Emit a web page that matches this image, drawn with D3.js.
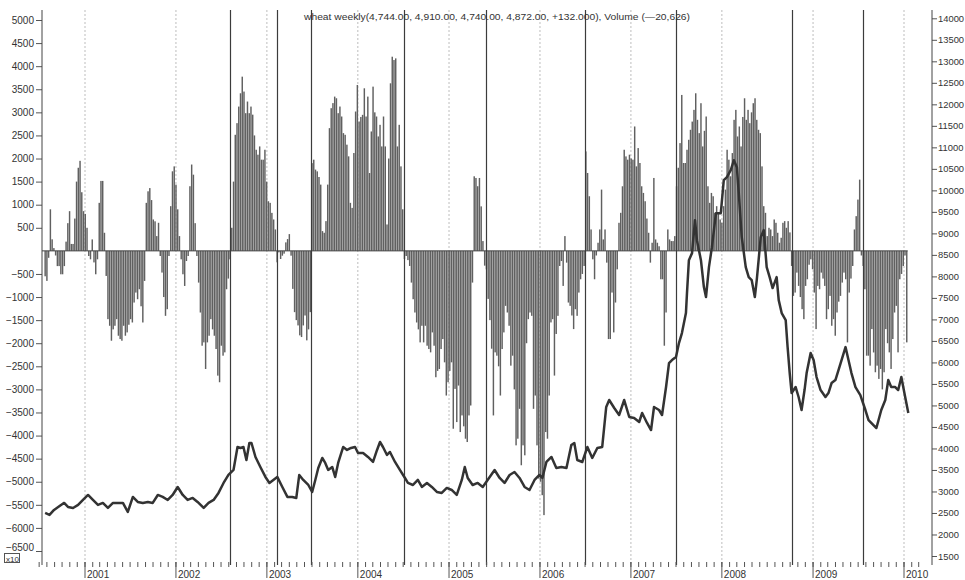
<!DOCTYPE html>
<html><head><meta charset="utf-8">
<script src="https://cdnjs.cloudflare.com/ajax/libs/d3/7.8.5/d3.min.js"></script>
<style>
body{margin:0;background:#fff}
svg{display:block}
text{font-family:"Liberation Sans",Arial,sans-serif}
</style>
</head><body>
<svg id="chart" width="965" height="580"></svg>
<script>
// ---------------- data ----------------
const titleText = "wheat weekly(4,744.00, 4,910.00, 4,740.00, 4,872.00, +132.000), Volume (\u201420,626)";
const weekStart = "2000-07-25";           // date of the first weekly bar
// weekly net values (left axis), split in blocks of 100 weeks
const netWeeks000 = [-550,-650,-150,900,250,60,-100,-330,-330,-507,
 -507,-330,200,600,860,150,150,700,1500,1800,
 1950,1270,860,800,500,-111,-183,248,-250,-507,
 -183,1040,1515,1515,392,-543,-1479,-1622,-1946,-1700,
 -1622,-1479,-1838,-1910,-1946,-1622,-1838,-1766,-1600,-1479,
 -1551,-1119,-903,-1047,-831,-1200,-1551,-651,1040,1290,
 1360,1100,680,640,320,608,-111,-470,-1000,-1407,
 -1263,-111,968,1723,1830,1435,900,320,-183,-507,
 -760,-220,-111,1400,1870,1650,600,-111,-687,-1335,
 -2054,-1982,-2558,-1982,-1838,-1479,-1700,-1838,-2126,-2702];
const netWeeks100 = [-2845,-2054,-2270,-2198,-831,-600,-183,500,1500,2514,
 2766,3125,3413,3773,3450,2982,3234,2982,3125,2950,
 2500,2190,2083,2262,1975,1975,2190,1500,1075,1040,
 823,680,464,-248,-32,-176,-104,-60,184,255,
 363,-104,-823,-1327,-1500,-1615,-1830,-1866,-1615,-1400,
 -1938,-1700,-1327,1900,1975,1760,1722,1600,1435,428,
 392,644,1435,2658,3090,3200,3341,3305,2982,3126,
 2910,2550,2514,2300,2047,1040,931,2119,3018,3593,
 2802,2900,2946,3521,2910,3341,1686,2586,3557,3000,
 2910,2478,2730,2262,2910,2262,572,2000,3629,4205];
const netWeeks200 = [4133,4169,2262,2730,1830,900,-176,-111,-200,-327,
 -687,-1047,-1335,-1551,-1700,-1982,-1622,-1982,-1622,-2054,
 -2126,-2198,-1766,-2054,-2737,-2600,-2558,-2126,-1910,-2414,
 -3133,-2845,-2600,-2414,-3852,-2989,-3708,-2917,-3924,-3564,
 -3800,-4068,-4140,-3564,-3349,-687,1615,1579,1400,1579,
 964,212,-320,-400,-1040,-1500,-2119,-3564,-2198,-2270,
 -2500,-3133,-2126,-1766,-1191,-1335,-1622,-2486,-2270,-3000,
 -4212,-4068,-3421,-4643,-4212,-4428,-2000,-1479,-1335,-1407,
 -3421,-3133,-4212,-4931,-5000,-5291,-5723,-3924,-4068,-3133,
 -1550,-1479,-2701,-1800,-1407,-327,-220,-759,320,-255];
const netWeeks300 = [-1119,-1191,-1400,-1694,-1263,-1407,-903,-615,-500,-327,
 2154,1687,1183,464,-183,-615,-100,176,464,1327,
 248,464,-255,-1910,-1910,-903,-1766,-1119,-400,608,
 824,1399,2190,2046,1975,2083,2000,1975,2694,1830,
 2226,1903,1399,1255,1075,700,392,-255,176,1579,
 248,176,100,-615,-615,-2054,-1335,464,248,212,
 212,320,1399,1800,2334,3377,1903,1903,2190,2406,
 2622,2800,3054,3413,2838,2550,3198,2262,2600,2910,
 1399,1040,1255,1183,824,968,800,680,608,968,
 1327,2190,1975,1615,2118,2838,3054,2478,2694,2262];
const netWeeks400 = [2900,3305,2838,3054,2766,3000,3198,3305,2838,2622,
 2550,1830,968,824,320,500,464,320,680,608,
 392,176,284,608,644,500,644,400,-327,-975,
 -903,-471,-759,-1000,-1263,-1479,-759,-615,-300,-183,
 -399,-903,-1694,-759,-831,-471,-600,-759,-1479,-1263,
 -975,-1622,-1479,-1838,-1335,-1100,-975,-687,-471,-615,
 -1982,-903,-600,-327,464,752,1111,1543,-100,-327,
 -831,-2270,-2270,-2486,-1694,-2200,-2629,-2486,-2773,-2557,
 -3000,-2629,-1694,-2000,-2198,-2557,-1910,-1335,-1191,-2198,
 -615,-500,-327,-100,-1982];

// weekly close price (right axis): week offset from weekStart, price
const priceWeek = [0,2.5,5.1,9.1,10.9,13.1,16,18.9,21.7,24.6,27.4,30.3,33.1,36,38.9,41.7,44.6,47.4,50.3,53.1,
 56,58.9,61.7,64.6,67.4,70.3,73.1,76,78.9,81.7,84.6,87.4,90.9,93.7,96.6,99.4,102.3,105.1,108,110.3,
 112,113.7,115.4,117.1,118.3,120.6,123.4,126.3,128.6,133.1,136,138.9,141.7,144,145.7,148,150.9,153.1,154.9,156.6,
 158.9,160.6,162.3,164.6,166.3,168,170.9,173.1,175.4,177.7,179.4,182.3,185.1,188,190.3,192,193.7,196,197.7,200.6,
 203.4,206.3,208,210.9,213.7,216,218.9,221.7,224.6,227.4,230.3,233.1,236,238.9,240.6,242.3,245.1,248,250.9,253.7,
 257.7,260.6,263.4,266.3,269.1,272,274.9,277.7,280.6,283.4,285.1,287.4,290.3,293.1,296,298.9,301.7,303.4,305.1,308,
 310.9,313.7,316.6,319.4,321.7,323.4,326.3,329.1,332,334.9,337.7,340.6,342.3,345.1,347.4,349.1,352,353.7,356,357.7,
 359.4,361.7,363.4,365.1,367.4,368,369.1,370.9,372.6,373.7,376,377.7,378.9,380.6,382.3,384.6,387.4,389.1,390.9,393.1,
 394.9,396.6,397.7,399.4,401.7,403.4,405.1,406.9,408,410.3,412,413.7,415.4,417.1,419.4,420.6,422.3,424.6,425.7,426.9,
 428,430.3,432,433.7,435.4,436.6,438.9,440.6,442.3,444.6,447.4,449.1,450.9,453.1,455.4,458.9,460.6,462.3,464.6,467.4,
 470.3,472.1,476.6,479.4,481.7,483.4,485.1,487.4,489.1,490.9,493.1,494.9];
const priceValue = [2501,2455,2571,2687,2734,2641,2617,2687,2803,2919,2803,2687,2734,2617,2734,2734,2734,2524,2873,2757,
 2734,2757,2734,2919,2873,2803,2919,3105,2919,2803,2850,2757,2617,2734,2803,2966,3198,3384,3500,4034,
 4011,4034,3732,4127,4127,3802,3570,3338,3198,3338,3105,2873,2873,2850,3384,3268,3151,2989,3268,3547,
 3779,3663,3500,3570,3338,3663,4034,3965,4011,4034,3895,3895,3802,3686,3965,4150,4034,3849,3918,3686,
 3500,3314,3198,3151,3268,3105,3198,3105,2989,2966,3082,3035,2919,3268,3570,3314,3151,3198,3105,3268,
 3500,3314,3198,3384,3453,3314,3105,3035,3268,3384,3314,3686,3802,3547,3570,3547,4081,4127,3732,3686,
 4034,3779,4011,4034,4964,5126,4941,4778,5126,4731,4708,4615,4824,4592,4429,4964,4894,4778,5428,5986,
 6055,6125,6450,6682,7147,7612,8378,8541,9308,8843,8378,7751,7519,8216,8680,9470,9470,10237,10306,10469,
 10701,10539,9935,8913,8216,7983,7914,7519,7914,8913,9075,8216,7983,7728,7983,7449,7147,6985,6357,5753,
 5289,5428,5196,4894,5358,5753,6218,6055,5660,5358,5196,5289,5521,5591,5893,6357,6055,5753,5428,5242,
 4894,4661,4475,4894,5126,5591,5428,5428,5358,5660,5196,4824];

// event marker dates (solid vertical lines)
const markerDates = ["2002-08-04","2003-02-10","2003-06-28","2004-07-03","2005-05-31",
                     "2006-06-30","2007-07-02","2008-10-09","2009-07-21"];
const leftTicks  = [5000,4500,4000,3500,3000,2500,2000,1500,1000,500,-500,-1000,-1500,-2000,
                    -2500,-3000,-3500,-4000,-4500,-5000,-5500,-6000,-6500];
const rightTicks = [14000,13500,13000,12500,12000,11500,11000,10500,10000,9500,9000,8500,8000,
                    7500,7000,6500,6000,5500,5000,4500,4000,3500,3000,2500,2000,1500];
const yearTicks  = [2001,2002,2003,2004,2005,2006,2007,2008,2009,2010];

// ---------------- chart ----------------
const svg = d3.select("#chart");
const TOP = 10, BOTTOM = 565, LEFT = 42, RIGHT = 932;
const parse = d3.timeParse("%Y-%m-%d");
const start = parse(weekStart);
const x = d3.scaleTime().domain([new Date(2001,0,1), new Date(2010,0,1)]).range([85, 904]);
const yL = d3.scaleLinear().domain([-6500, 5000]).range([551, 20]);
const yR = d3.scaleLinear().domain([1500, 14000]).range([556, 18.3]);

const netValues = [].concat(netWeeks000, netWeeks100, netWeeks200, netWeeks300, netWeeks400);
const bars = netValues.map((v,i) => ({date: d3.timeDay.offset(start, 7*i), v}));
const price = priceWeek.map((w,i) => ({date: new Date(+start + w*7*864e5), v: priceValue[i]}));

// year dotted grid
svg.append("g").selectAll("line").data(yearTicks).join("line")
  .attr("x1", d => x(new Date(d,0,1))).attr("x2", d => x(new Date(d,0,1)))
  .attr("y1", TOP).attr("y2", BOTTOM)
  .attr("stroke", "#bdbdbd").attr("stroke-width", 1).attr("stroke-dasharray", "2,2");

// bars
svg.append("g").selectAll("rect").data(bars).join("rect")
  .attr("x", d => x(d.date) - 0.7)
  .attr("width", 1.45)
  .attr("y", d => Math.min(yL(d.v), yL(0)))
  .attr("height", d => Math.abs(yL(d.v) - yL(0)))
  .attr("fill", "#606060");

// zero line
svg.append("line")
  .attr("x1", LEFT).attr("x2", x(bars[bars.length-1].date) + 1)
  .attr("y1", yL(0)).attr("y2", yL(0))
  .attr("stroke", "#444").attr("stroke-width", 1);

// event markers
svg.append("g").selectAll("line").data(markerDates).join("line")
  .attr("x1", d => Math.round(x(parse(d))) + 0.5).attr("x2", d => Math.round(x(parse(d))) + 0.5)
  .attr("y1", TOP).attr("y2", BOTTOM)
  .attr("stroke", "#3c3c3c").attr("stroke-width", 1.2);

// price line
svg.append("path").datum(price)
  .attr("d", d3.line().x(d => x(d.date)).y(d => yR(d.v)))
  .attr("fill", "none").attr("stroke", "#333").attr("stroke-width", 2.5)
  .attr("stroke-linejoin", "round");

// left axis
const axL = svg.append("g").attr("transform", `translate(${LEFT},0)`);
axL.call(d3.axisLeft(yL).tickValues(d3.range(-6700, 5201, 100)).tickSize(3).tickFormat(""));
axL.call(d3.axisLeft(yL).tickValues(leftTicks).tickSize(6).tickPadding(2).tickFormat(d3.format("d")));
axL.selectAll(".domain").remove();
axL.append("line").attr("y1", TOP).attr("y2", BOTTOM).attr("stroke", "#444");
axL.selectAll(".tick line").attr("stroke", "#555");
axL.selectAll("text").attr("font-size", 10).attr("fill", "#333")
  .attr("font-family", "'Liberation Sans',Arial,sans-serif");
// the lowest label sits a little higher, above the x10 box
axL.selectAll(".tick text").filter(d => d === -6500).attr("dy", "-0.1em");

// right axis
const axR = svg.append("g").attr("transform", `translate(${RIGHT},0)`);
axR.call(d3.axisRight(yR).tickValues(d3.range(1300, 14201, 100)).tickSize(3).tickFormat(""));
axR.call(d3.axisRight(yR).tickValues(rightTicks).tickSize(5).tickPadding(1).tickFormat(d3.format("d")));
axR.selectAll(".domain").remove();
axR.append("line").attr("y1", TOP).attr("y2", BOTTOM).attr("stroke", "#444");
axR.selectAll(".tick line").attr("stroke", "#555");
axR.selectAll("text").attr("font-size", 9.4).attr("fill", "#333")
  .attr("font-family", "'Liberation Sans',Arial,sans-serif");

// bottom axis: monthly minor ticks + year ticks with labels
const months = d3.timeMonth.range(new Date(2000,6,1), new Date(2010,3,1));
svg.append("g").selectAll("line").data(months).join("line")
  .attr("x1", d => x(d)).attr("x2", d => x(d))
  .attr("y1", 562).attr("y2", 567).attr("stroke", "#555");
const yr = svg.append("g").selectAll("g").data(yearTicks).join("g")
  .attr("transform", d => `translate(${x(new Date(d,0,1))},0)`);
yr.append("line").attr("y1", 562).attr("y2", 578).attr("stroke", "#555");
yr.append("text").attr("x", 2).attr("y", 578).attr("font-size", 10).attr("fill", "#333").text(d => d);

// title
svg.append("text").attr("x", 304).attr("y", 20).attr("font-size", 9.5).attr("fill", "#333")
  .attr("textLength", 386).attr("lengthAdjust", "spacingAndGlyphs").text(titleText);

// x10 box
svg.append("rect").attr("x", 4.5).attr("y", 553.5).attr("width", 15).attr("height", 9)
  .attr("fill", "#fff").attr("stroke", "#555");
svg.append("text").attr("x", 6).attr("y", 561.5).attr("font-size", 8).attr("fill", "#333").text("x10");
</script>
</body></html>
